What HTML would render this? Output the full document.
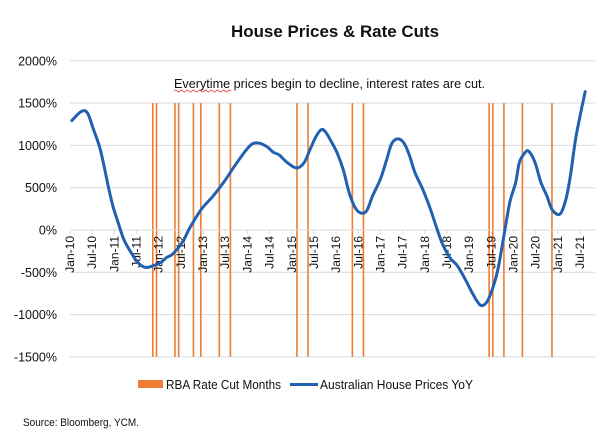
<!DOCTYPE html>
<html><head><meta charset="utf-8"><style>
body{margin:0;background:#fff;}
svg{display:block;font-family:"Liberation Sans Narrow","Liberation Sans",sans-serif;}
</style></head><body>
<svg id="chart" width="604" height="444" viewBox="0 0 604 444">
<text x="335" y="37" text-anchor="middle" font-size="17" font-weight="bold" fill="#111" textLength="208" lengthAdjust="spacingAndGlyphs">House Prices &amp; Rate Cuts</text>
<g id="grid"></g>
<g id="cuts"></g>
<g id="axes"></g>
<path id="line" fill="none" stroke="#2260b0" stroke-width="3" stroke-linejoin="round" stroke-linecap="round"/>
<text x="174" y="88" font-size="13" fill="#111" textLength="311" lengthAdjust="spacingAndGlyphs">Everytime prices begin to decline, interest rates are cut.</text>
<path d="M174 91 q1.5 -2 3 0 t3 0 t3 0 t3 0 t3 0 t3 0 t3 0 t3 0 t3 0 t3 0 t3 0 t3 0 t3 0 t3 0 t3 0 t3 0 t3 0 t3 0 t3 0" fill="none" stroke="#e03030" stroke-width="0.7"/>
<g>
<rect x="138" y="380" width="25" height="8" fill="#ed7d31"/>
<text x="166" y="389" font-size="13" fill="#111" textLength="115" lengthAdjust="spacingAndGlyphs">RBA Rate Cut Months</text>
<line x1="290" y1="384.5" x2="318" y2="384.5" stroke="#2260b0" stroke-width="3"/>
<text x="320" y="389" font-size="13" fill="#111" textLength="153" lengthAdjust="spacingAndGlyphs">Australian House Prices YoY</text>
</g>
<text x="23" y="426" font-size="11" fill="#111" textLength="116" lengthAdjust="spacingAndGlyphs">Source: Bloomberg, YCM.</text>
</svg>
<script>
const yTicks=[2000,1500,1000,500,0,-500,-1000,-1500];
const xTickLabels=["Jan-10","Jul-10","Jan-11","Jul-11","Jan-12","Jul-12","Jan-13","Jul-13","Jan-14","Jul-14","Jan-15","Jul-15","Jan-16","Jul-16","Jan-17","Jul-17","Jan-18","Jul-18","Jan-19","Jul-19","Jan-20","Jul-20","Jan-21","Jul-21"];
const cutMonths=[22,23,28,29,33,35,40,43,61,64,76,79,113,114,117,122,130];
const priceMonths=[0.5,3,4.7,6.3,7.9,9,10.5,11.7,13,14.5,16.2,18.3,20.4,22.5,24.6,26.2,27.8,30.4,32.5,35.6,38.8,41.9,44,47.2,49.3,51.4,53.5,55,56.6,58.7,61.3,63.4,65,66.6,68,69.2,70.8,72.4,74,75.5,77.1,78.7,80.3,81.9,84,85.6,87,88.6,90.2,91.7,93.3,95.4,97.5,99,100.6,102.7,104.8,106.9,109,111,112.7,114.3,115.8,117.4,119,120.6,121.6,123.2,124.2,125.8,127.4,129,130.5,132.6,134.2,135.4,136.8,138.4,139.4];
const priceValues=[1293,1400,1384,1195,998,800,485,268,91,-106,-244,-382,-442,-422,-382,-323,-284,-146,32,248,406,584,722,919,1017,1025,978,919,887,800,733,800,958,1108,1187,1155,1037,899,702,445,268,201,229,406,603,820,1017,1077,1037,899,682,485,248,51,-146,-323,-422,-580,-757,-887,-856,-698,-461,-67,327,564,800,919,927,800,564,406,237,189,367,643,1077,1431,1636];
const NS="http://www.w3.org/2000/svg";
const X0=70,X1=595,PX=3.696;
const xs=m=>X0+m*PX;
const ys=v=>230-v*(42.3/500);
function mk(tag,attrs,parent){const e=document.createElementNS(NS,tag);for(const k in attrs)e.setAttribute(k,attrs[k]);parent.appendChild(e);return e;}
const grid=document.getElementById('grid'),axes=document.getElementById('axes'),cuts=document.getElementById('cuts');
yTicks.forEach(v=>{
  const l=mk('line',{x1:X0,x2:X1,y1:ys(v),y2:ys(v),stroke:'#d9d9d9','stroke-width':1},grid);
  
  
  const t=mk('text',{x:57,y:ys(v)+4.5,'text-anchor':'end','font-size':12.5,fill:'#111'},axes);
  t.textContent=v+'%';
  
  
});
cutMonths.forEach(m=>{
  const l=mk('line',{x1:xs(m+0.4),x2:xs(m+0.4),y1:ys(1500),y2:ys(-1500),stroke:'#ed7d31','stroke-width':1.6},cuts);
  
  
});
mk('line',{x1:X0,x2:X1,y1:ys(0),y2:ys(0),stroke:'#d9d9d9','stroke-width':1},axes);
xTickLabels.forEach((s,i)=>{
  const x=xs(i*6);
  const tk=mk('line',{x1:x,x2:x,y1:ys(0),y2:ys(0)+4,stroke:'#d9d9d9','stroke-width':1},axes);
  
  
  const t=mk('text',{x:0,y:0,'text-anchor':'end','font-size':12,fill:'#111',transform:`translate(${x+4},${ys(0)+6}) rotate(-90)`},axes);
  t.textContent=s;
  
  
});
// smooth path via Catmull-Rom
const pts=priceMonths.map((m,i)=>[xs(m),ys(priceValues[i])]);
let d=`M${pts[0][0]},${pts[0][1]}`;
for(let i=0;i<pts.length-1;i++){
  const p0=pts[i-1]||pts[i],p1=pts[i],p2=pts[i+1],p3=pts[i+2]||p2;
  const c1=[p1[0]+(p2[0]-p0[0])/6,p1[1]+(p2[1]-p0[1])/6];
  const c2=[p2[0]-(p3[0]-p1[0])/6,p2[1]-(p3[1]-p1[1])/6];
  d+=` C${c1[0]},${c1[1]} ${c2[0]},${c2[1]} ${p2[0]},${p2[1]}`;
}
document.getElementById('line').setAttribute('d',d);
</script>
</body></html>
